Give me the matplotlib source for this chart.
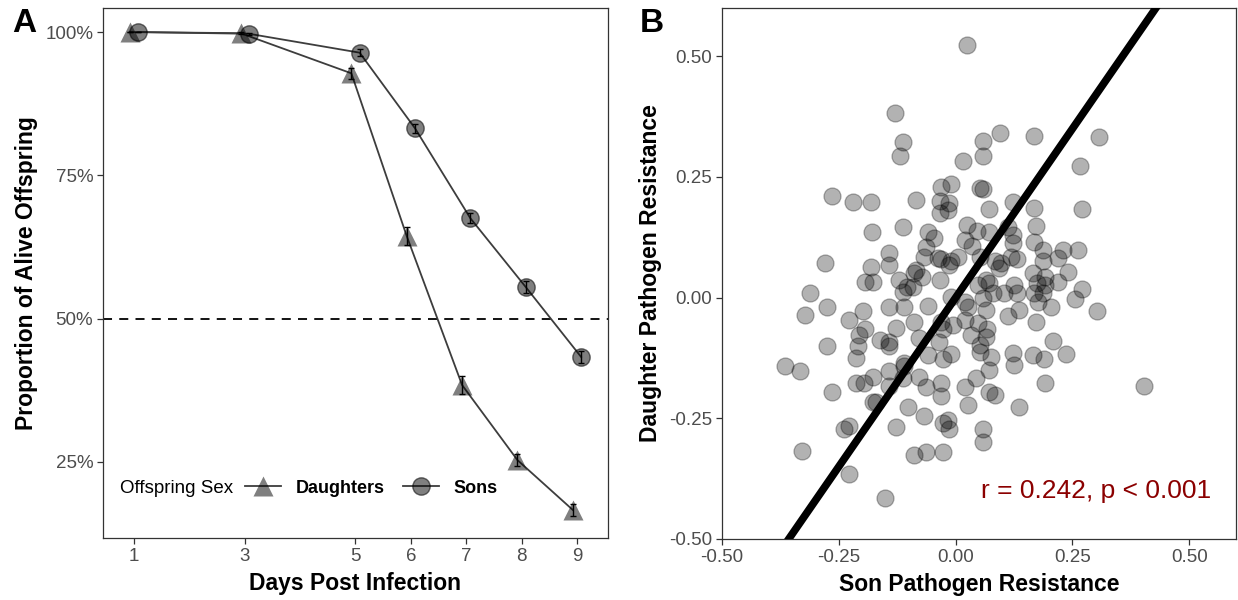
import matplotlib
matplotlib.use('Agg')
import matplotlib.pyplot as plt
from matplotlib.lines import Line2D

plt.rcParams['font.family'] = ['Liberation Sans', 'DejaVu Sans']
plt.rcParams['axes.unicode_minus'] = False

# Panel A: survival of offspring after infection
days = [1, 3, 5, 6, 7, 8, 9]
daughters_alive = [100.0, 99.8, 92.8, 64.4, 38.4, 25.3, 16.6]
daughters_se = [0.0, 0.2, 1.0, 1.6, 1.5, 1.1, 1.0]
sons_alive = [100.0, 99.7, 96.4, 83.2, 67.5, 55.5, 43.3]
sons_se = [0.0, 0.2, 0.6, 0.8, 0.9, 1.0, 1.1]
day_ticks = [1, 3, 5, 6, 7, 8, 9]
pct_ticks = [25, 50, 75, 100]

# Panel B: family means of pathogen resistance
son_resistance = [
    0.024, -0.130, -0.113, -0.120, 0.094, 0.058, 0.058, 0.167, 0.306, 0.015,
    0.267, -0.265, -0.220, -0.182, -0.085, -0.032, -0.011, 0.053, 0.058, -0.034,
    -0.015, -0.034, -0.017, 0.071, 0.122, 0.167, 0.271, -0.113, -0.179, -0.060,
    -0.047, 0.024, 0.045, 0.021, 0.071, 0.111, 0.122, 0.122, 0.167, 0.173,
    0.036, -0.064, -0.143, -0.068, -0.038, -0.011, -0.032, 0.004, 0.053, 0.118,
    0.132, 0.096, 0.188, 0.229, 0.261, 0.220, 0.188, -0.280, -0.182, -0.143,
    -0.085, 0.241, 0.085, -0.015, -0.194, -0.177, -0.312, -0.122, -0.113, -0.105,
    -0.090, -0.071, -0.034, -0.092, -0.111, -0.060, -0.011, 0.021, 0.026, 0.064,
    0.071, 0.047, 0.058, 0.081, 0.064, 0.103, 0.132, 0.124, 0.135, 0.111,
    0.092, 0.165, 0.175, 0.167, 0.192, 0.218, 0.271, 0.256, 0.303, 0.192,
    0.188, 0.177, 0.203, 0.171, -0.276, -0.323, -0.199, -0.143, -0.229, -0.194,
    -0.207, -0.128, -0.090, -0.032, -0.006, -0.026, 0.021, 0.047, 0.032, 0.068,
    0.064, -0.079, -0.036, -0.162, -0.143, -0.143, -0.209, -0.276, 0.053, 0.053,
    -0.060, -0.011, -0.028, 0.075, -0.214, -0.111, 0.122, 0.124, 0.165, 0.209,
    0.237, 0.190, -0.365, -0.333, -0.143, -0.111, 0.071, -0.177, -0.079, 0.043,
    -0.214, -0.197, -0.143, -0.113, -0.064, -0.032, -0.032, 0.021, 0.071, 0.085,
    0.192, 0.404, -0.265, -0.177, -0.171, -0.103, 0.026, 0.135, -0.068, -0.028,
    -0.017, -0.015, 0.058, 0.058, -0.229, -0.239, -0.128, -0.329, -0.090, -0.064,
    -0.028, -0.229, -0.152,
]
daughter_resistance = [
    0.524, 0.383, 0.323, 0.294, 0.342, 0.325, 0.294, 0.335, 0.333, 0.284,
    0.273, 0.211, 0.199, 0.199, 0.203, 0.230, 0.236, 0.228, 0.224, 0.201,
    0.197, 0.176, 0.182, 0.184, 0.199, 0.186, 0.184, 0.147, 0.135, 0.135,
    0.124, 0.151, 0.137, 0.120, 0.135, 0.147, 0.130, 0.114, 0.116, 0.149,
    0.106, 0.104, 0.093, 0.085, 0.083, 0.075, 0.079, 0.085, 0.085, 0.085,
    0.079, 0.072, 0.099, 0.099, 0.099, 0.083, 0.075, 0.072, 0.064, 0.068,
    0.058, 0.054, 0.075, 0.068, 0.033, 0.033, 0.010, 0.037, 0.012, 0.021,
    0.052, 0.043, 0.037, 0.023, -0.019, -0.017, 0.002, -0.010, -0.019, 0.037,
    0.031, 0.027, 0.000, 0.010, -0.025, 0.010, 0.010, 0.027, -0.025, -0.039,
    0.062, 0.052, 0.031, 0.010, 0.043, 0.033, 0.017, -0.002, -0.027, 0.027,
    0.010, -0.010, -0.019, -0.050, -0.019, -0.035, -0.027, -0.019, -0.046, -0.066,
    -0.077, -0.062, -0.050, -0.050, -0.056, -0.066, -0.046, -0.052, -0.077, -0.066,
    -0.081, -0.083, -0.091, -0.087, -0.091, -0.101, -0.101, -0.101, -0.099, -0.112,
    -0.118, -0.116, -0.128, -0.124, -0.126, -0.135, -0.114, -0.139, -0.118, -0.089,
    -0.116, -0.128, -0.141, -0.151, -0.151, -0.141, -0.149, -0.164, -0.164, -0.166,
    -0.176, -0.176, -0.184, -0.166, -0.186, -0.176, -0.203, -0.186, -0.195, -0.201,
    -0.176, -0.184, -0.195, -0.217, -0.217, -0.226, -0.222, -0.226, -0.246, -0.259,
    -0.253, -0.273, -0.273, -0.300, -0.265, -0.273, -0.267, -0.317, -0.325, -0.319,
    -0.319, -0.366, -0.416,
]
resist_ticks = [-0.50, -0.25, 0.00, 0.25, 0.50]
fit_slope = 1.40
fit_intercept = 0.0
r_value = 0.242
p_label = 'p < 0.001'

spine_col = '#333333'
tick_col = '#4d4d4d'
line_col = '#3d3d3d'
point_fill = (0, 0, 0, 0.5)
dodge = 0.075
title_size = 16.5


def style_axes(ax):
    for s in ax.spines.values():
        s.set_color(spine_col)
        s.set_linewidth(0.9)
    ax.tick_params(direction='out', length=4, width=0.9, color=spine_col,
                   labelsize=13.5, labelcolor=tick_col, pad=3)


fig = plt.figure(figsize=(12.38, 6.0), dpi=100)
axA = fig.add_axes([0.0832, 0.1033, 0.4079, 0.8834])
axB = fig.add_axes([0.5832, 0.1017, 0.4152, 0.8850])

# ---- panel A ----
xd = [d - dodge for d in days]
xs = [d + dodge for d in days]
axA.axhline(50, color='black', lw=1.3, ls=(0, (5, 4)), zorder=1)
axA.plot(xd, daughters_alive, color=line_col, lw=1.3, zorder=2)
axA.plot(xs, sons_alive, color=line_col, lw=1.3, zorder=2)
axA.plot(xd, daughters_alive, ls='none', marker='^', ms=14, mfc=point_fill,
         mec='none', zorder=3)
axA.plot(xs, sons_alive, ls='none', marker='o', ms=12.5, mfc=point_fill,
         mec=(0, 0, 0, 0.55), mew=1.0, zorder=3)
axA.errorbar(xd, daughters_alive, yerr=daughters_se, fmt='none', ecolor='black',
             elinewidth=1.0, capsize=2.5, capthick=1.0, zorder=4)
axA.errorbar(xs, sons_alive, yerr=sons_se, fmt='none', ecolor='black',
             elinewidth=1.0, capsize=2.5, capthick=1.0, zorder=4)

axA.set_xlim(0.44, 9.56)
axA.set_ylim(11.7, 104.2)
axA.set_xticks(day_ticks)
axA.set_xticklabels([str(d) for d in day_ticks])
axA.set_yticks(pct_ticks)
axA.set_yticklabels([f'{p}%' for p in pct_ticks])
style_axes(axA)
axA.set_xlabel('Days Post Infection', fontsize=title_size, fontweight='bold',
               labelpad=5)
axA.set_ylabel('Proportion of Alive Offspring', fontsize=title_size,
               fontweight='bold', labelpad=5)

handles = [
    Line2D([0], [0], color=line_col, lw=1.3, marker='^', ms=14, mfc=point_fill,
           mec='none'),
    Line2D([0], [0], color=line_col, lw=1.3, marker='o', ms=12.5, mfc=point_fill,
           mec=(0, 0, 0, 0.55)),
]
axA.text(0.034, 0.094, 'Offspring Sex', transform=axA.transAxes, fontsize=13.5,
         va='center', ha='left', color='black')
leg = axA.legend(handles, ['Daughters', 'Sons'], ncol=2, loc='center left',
                 bbox_to_anchor=(0.281, 0.094), frameon=False, fontsize=13,
                 handlelength=2.0, handletextpad=0.8, columnspacing=1.0,
                 borderpad=0, borderaxespad=0)
for t in leg.get_texts():
    t.set_fontweight('bold')

# ---- panel B ----
axB.scatter(son_resistance, daughter_resistance, s=150,
            facecolor=(0, 0, 0, 0.3), edgecolor=(0, 0, 0, 0.3),
            linewidths=0.9, zorder=2)
axB.axline((0, fit_intercept), slope=fit_slope, color='black', lw=5.5, zorder=3)
axB.text(0.30, -0.40, f'r = {r_value:.3f}, {p_label}', color='#8b0000',
         fontsize=19, ha='center', va='center')

axB.set_xlim(-0.5, 0.6)
axB.set_ylim(-0.5, 0.6)
axB.set_xticks(resist_ticks)
axB.set_xticklabels([f'{v:.2f}' for v in resist_ticks])
axB.set_yticks(resist_ticks)
axB.set_yticklabels([f'{v:.2f}' for v in resist_ticks])
style_axes(axB)
axB.set_xlabel('Son Pathogen Resistance', fontsize=title_size, fontweight='bold',
               labelpad=5)
axB.set_ylabel('Daughter Pathogen Resistance', fontsize=title_size,
               fontweight='bold', labelpad=5)

fig.text(0.0097, 0.987, 'A', fontsize=24, fontweight='bold', va='top', ha='left')
fig.text(0.517, 0.987, 'B', fontsize=24, fontweight='bold', va='top', ha='left')

fig.savefig('out.png', dpi=100)
